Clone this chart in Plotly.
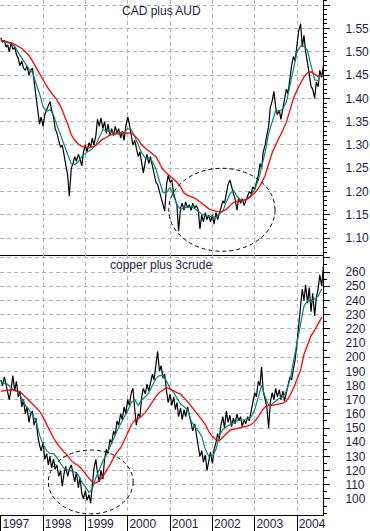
import pandas as pd
import plotly.graph_objects as go

# ---------------- data ----------------
# semi-monthly closes, starting Jan 1997
cad_aud_price = [
    1.53, 1.52, 1.525, 1.51,
    1.515, 1.50, 1.52, 1.505, 1.51, 1.495,
    1.485, 1.47, 1.48, 1.465,
    1.46, 1.47, 1.45, 1.46,
    1.465, 1.44, 1.40,
    1.375, 1.345, 1.36, 1.34,
    1.365, 1.375, 1.385, 1.393, 1.375,
    1.36, 1.335, 1.325,
    1.31, 1.295, 1.30, 1.275,
    1.26, 1.235, 1.19,
    1.25,
    1.26, 1.275, 1.265, 1.28,
    1.27, 1.255, 1.285, 1.30, 1.285, 1.305,
    1.295, 1.315, 1.30, 1.32,
    1.355, 1.34, 1.358, 1.335,
    1.35, 1.325, 1.345, 1.32,
    1.335, 1.32, 1.34, 1.325, 1.335, 1.315, 1.33, 1.31,
    1.34, 1.36, 1.345,
    1.32, 1.30, 1.31, 1.29,
    1.275, 1.285, 1.265,
    1.24, 1.265,
    1.28, 1.26, 1.275, 1.255,
    1.24, 1.22, 1.215,
    1.20, 1.185, 1.17, 1.158,
    1.215, 1.235, 1.22, 1.225,
    1.195, 1.18, 1.17,
    1.115,
    1.165, 1.175, 1.16, 1.178, 1.165, 1.172,
    1.16, 1.175, 1.165, 1.17, 1.16,
    1.12,
    1.15, 1.135, 1.155, 1.14, 1.15,
    1.135, 1.15, 1.13, 1.155, 1.14, 1.155,
    1.165, 1.18, 1.175, 1.195,
    1.215, 1.225, 1.21,
    1.195, 1.185,
    1.16,
    1.185, 1.175, 1.185, 1.17, 1.18,
    1.19, 1.20, 1.195, 1.21, 1.205, 1.22,
    1.235, 1.26, 1.25,
    1.285, 1.30, 1.32, 1.34,
    1.38, 1.395, 1.415,
    1.38, 1.365, 1.375, 1.355,
    1.38, 1.40, 1.42, 1.41, 1.445,
    1.47, 1.49, 1.48, 1.515,
    1.545, 1.56,
    1.51, 1.535, 1.50,
    1.475, 1.45, 1.425, 1.42,
    1.40, 1.435,
    1.425, 1.46, 1.445, 1.47,
]

# monthly moving averages, starting Jan 1997
cad_aud_fast = [
    1.525, 1.523, 1.52, 1.517, 1.512, 1.498, 1.487, 1.475, 1.463, 1.456, 1.435, 1.41,
    1.382, 1.372, 1.376, 1.364, 1.342, 1.32, 1.30, 1.28, 1.26, 1.258, 1.264, 1.275,
    1.282, 1.287, 1.292, 1.30, 1.315, 1.333, 1.33, 1.328, 1.327, 1.326, 1.326, 1.327,
    1.335, 1.332, 1.318, 1.298, 1.283, 1.272, 1.273, 1.265, 1.248, 1.222, 1.198, 1.198,
    1.209, 1.19, 1.172, 1.162, 1.165, 1.166, 1.168, 1.163, 1.157, 1.152, 1.148, 1.147,
    1.146, 1.145, 1.152, 1.158, 1.178, 1.195, 1.203, 1.19, 1.182, 1.181, 1.186, 1.192,
    1.205, 1.225, 1.252, 1.285, 1.325, 1.352, 1.374, 1.372, 1.378, 1.392, 1.425, 1.462,
    1.50, 1.512, 1.512, 1.502, 1.47, 1.44, 1.438, 1.455,
]
cad_aud_slow = [
    1.525, 1.523, 1.522, 1.519, 1.516, 1.512, 1.507, 1.50, 1.492, 1.48, 1.466, 1.452,
    1.44, 1.426, 1.416, 1.407, 1.396, 1.383, 1.365, 1.345, 1.322, 1.31, 1.302, 1.297,
    1.295, 1.294, 1.296, 1.299, 1.306, 1.313, 1.316, 1.322, 1.323, 1.324, 1.324, 1.325,
    1.326, 1.325, 1.32, 1.312, 1.30, 1.293, 1.288, 1.281, 1.275, 1.262, 1.247, 1.24,
    1.233, 1.226, 1.22, 1.21, 1.197, 1.192, 1.189, 1.186, 1.181, 1.175, 1.169, 1.163,
    1.16, 1.157, 1.156, 1.158, 1.162, 1.17, 1.177, 1.179, 1.18, 1.182, 1.184, 1.19,
    1.197, 1.207, 1.218, 1.235, 1.262, 1.284, 1.30, 1.315, 1.332, 1.349, 1.375, 1.40,
    1.418, 1.432, 1.446, 1.455, 1.457, 1.452, 1.447, 1.452,
]

copper_crude_price = [
    184, 180, 186, 181,
    176, 170, 178,
    187, 176, 183,
    172, 176, 165, 170,
    160, 165, 154, 160,
    162, 152, 157,
    145, 138, 134, 140,
    128, 132, 124,
    130, 122, 128, 121,
    124, 116, 120, 109,
    118, 123, 116, 121, 124,
    117, 112, 119, 108, 115,
    104, 100, 106, 99, 103, 97,
    112, 121, 128,
    118, 112, 120, 114,
    128, 135, 132, 142, 139,
    148, 145, 155, 152,
    160, 156, 165, 160,
    170, 166, 175, 178,
    164, 152, 160, 158,
    172, 178, 174, 181, 176,
    182, 188, 184,
    195, 204,
    190, 194, 185, 188,
    176, 168, 174,
    166, 172, 163, 168,
    158, 164, 156,
    163, 158, 165, 160,
    152, 148, 153, 144,
    137, 130, 134,
    126, 131, 120, 127,
    133, 125, 135,
    140, 146, 142,
    152, 158, 150, 162,
    154, 159, 151, 157, 153, 160, 155, 158, 151, 156, 153, 158, 155,
    162, 168, 175,
    172, 183, 180, 193,
    176, 170, 165,
    150,
    168, 175, 170, 178, 172, 177,
    170, 176, 169, 175,
    180, 186, 184, 192, 198,
    210, 222,
    236, 248, 240, 251,
    238, 249, 232, 245, 229, 242,
    248, 258, 250, 264,
]
copper_crude_fast = [
    182, 181.5, 181, 178, 176.5, 175, 171, 166, 163, 159.5, 155, 145,
    138.5, 134, 132, 132, 129, 125, 121.5, 120.5, 120, 119, 117, 112,
    108.5, 104.5, 107, 115, 120.5, 127, 131, 137, 143.5, 148, 153, 157.5,
    162, 168, 170, 166, 170, 172, 175, 180, 185, 187, 187, 183,
    178, 175, 171, 167, 165, 163, 155, 151, 148, 144, 135, 130,
    130, 135, 145, 149, 151, 152.5, 154, 155, 155.5, 156, 156, 158,
    163, 172, 180, 172, 166, 167, 169, 171, 172, 176, 184, 197,
    211, 223, 236, 240, 239, 241, 243, 248,
]
copper_crude_slow = [
    176, 176.5, 177, 177, 176.5, 176, 174.5, 172, 169.5, 166.5, 164, 162,
    157.5, 152.5, 147.5, 143, 139, 135.5, 133, 130.5, 127, 125, 123.5, 121,
    117.5, 114.5, 112, 111, 113, 116, 120, 124, 129, 133, 136, 141,
    146, 152, 155.5, 156.5, 158.5, 161, 164.5, 169, 172.5, 175, 177, 178.5,
    177.5, 176, 175, 174, 171.5, 168.5, 165.5, 162, 159, 156, 152.5, 147.5,
    144, 142, 141, 143.5, 146.5, 148.5, 149, 149.5, 150, 151, 151.5, 152.5,
    154.5, 158, 162, 165, 166, 166, 166.5, 167, 167.5, 169, 173, 178,
    184, 191, 202, 209, 215, 219, 223, 228,
]

year_ticks = ["1997-01-01", "1998-01-01", "1999-01-01", "2000-01-01",
              "2001-01-01", "2002-01-01", "2003-01-01", "2004-01-01"]
year_labels = ["1997", "1998", "1999", "2000", "2001", "2002", "2003", "2004"]

cad_ticks = [1.10, 1.15, 1.20, 1.25, 1.30, 1.35, 1.40, 1.45, 1.50, 1.55, 1.60]
cad_labels = ["1.10", "1.15", "1.20", "1.25", "1.30", "1.35", "1.40", "1.45",
              "1.50", "1.55", ""]
cc_ticks = [100, 110, 120, 130, 140, 150, 160, 170, 180, 190, 200, 210, 220,
            230, 240, 250, 260, 270]
cc_labels = ["100", "110", "120", "130", "140", "150", "160", "170", "180",
             "190", "200", "210", "220", "230", "240", "250", "260", ""]

top_title = "CAD plus AUD"
bottom_title = "copper plus 3crude"

# ---------------- figure ----------------
price_dates_top = pd.date_range("1997-01-01", periods=len(cad_aud_price), freq="SMS")
price_dates_bot = pd.date_range("1997-01-01", periods=len(copper_crude_price), freq="SMS")
ma_dates_top = pd.date_range("1997-01-01", periods=len(cad_aud_fast), freq="MS")
ma_dates_top2 = pd.date_range("1997-01-01", periods=len(cad_aud_slow), freq="MS")
ma_dates_bot = pd.date_range("1997-01-01", periods=len(copper_crude_fast), freq="MS")
ma_dates_bot2 = pd.date_range("1997-01-01", periods=len(copper_crude_slow), freq="MS")

BLACK = "#000000"
TEAL = "#008878"
RED = "#ff0000"
GRID = "#b4b4b4"
TXT = "#1e1e46"

fig = go.Figure()
fig.add_trace(go.Scatter(x=price_dates_top, y=cad_aud_price, mode="lines",
                         line=dict(color=BLACK, width=1.2), xaxis="x", yaxis="y"))
fig.add_trace(go.Scatter(x=ma_dates_top, y=cad_aud_fast, mode="lines",
                         line=dict(color=TEAL, width=1.2), xaxis="x", yaxis="y"))
fig.add_trace(go.Scatter(x=ma_dates_top2, y=cad_aud_slow, mode="lines",
                         line=dict(color=RED, width=1.3), xaxis="x", yaxis="y"))
fig.add_trace(go.Scatter(x=price_dates_bot, y=copper_crude_price, mode="lines",
                         line=dict(color=BLACK, width=1.2), xaxis="x2", yaxis="y2"))
fig.add_trace(go.Scatter(x=ma_dates_bot, y=copper_crude_fast, mode="lines",
                         line=dict(color=TEAL, width=1.2), xaxis="x2", yaxis="y2"))
fig.add_trace(go.Scatter(x=ma_dates_bot2, y=copper_crude_slow, mode="lines",
                         line=dict(color=RED, width=1.3), xaxis="x2", yaxis="y2"))

x_range = ["1996-12-25", "2004-08-12"]
split = 1 - 255 / 515

common_x = dict(type="date", range=x_range, tickmode="array", tickvals=year_ticks,
                showgrid=True, gridcolor=GRID, griddash="4px,3px", gridwidth=1,
                showline=True, linecolor="black", linewidth=1, zeroline=False,
                fixedrange=True)
common_y = dict(side="right", tickmode="array", ticks="outside", ticklen=6,
                tickcolor="black", tickwidth=1, showline=True, linecolor="black",
                linewidth=1, showgrid=True, gridcolor=GRID, griddash="4px,3px",
                gridwidth=1, zeroline=False, ticklabelstandoff=13,
                tickfont=dict(size=12, color=TXT), fixedrange=True)

fig.update_layout(
    width=370, height=531,
    margin=dict(l=0, r=47, t=0, b=16),
    paper_bgcolor="white", plot_bgcolor="white",
    showlegend=False,
    hovermode=False,
    font=dict(family="Arial, Liberation Sans, sans-serif", size=12, color=TXT),
    xaxis=dict(common_x, domain=[0, 1], anchor="y", showticklabels=False,
               ticks="", matches="x2"),
    xaxis2=dict(common_x, domain=[0, 1], anchor="y2", ticktext=year_labels,
                ticks="outside", ticklen=15, tickcolor="black",
                ticklabelstandoff=-17, ticklabelshift=15,
                ticklabeloverflow="allow",
                tickfont=dict(size=12, color=TXT)),
    yaxis=dict(common_y, domain=[split, 1], anchor="x", range=[1.064, 1.611],
               tickvals=cad_ticks, ticktext=cad_labels,
               minor=dict(tickmode="linear", tick0=1.10, dtick=0.01, ticks="outside",
                          ticklen=3, tickcolor="black", showgrid=False)),
    yaxis2=dict(common_y, domain=[0, split], anchor="x2", range=[88.7, 272],
                tickvals=cc_ticks, ticktext=cc_labels,
                minor=dict(tickmode="linear", tick0=100, dtick=5, ticks="outside",
                           ticklen=3, tickcolor="black", showgrid=False)),
    annotations=[
        dict(text=top_title, xref="x domain", yref="y domain", x=0.4985, y=1 - 11 / 255,
             xanchor="center", yanchor="middle", showarrow=False,
             font=dict(size=12, color=TXT)),
        dict(text=bottom_title, xref="x2 domain", yref="y2 domain", x=0.4985,
             y=1 - 10 / 260, xanchor="center", yanchor="middle", showarrow=False,
             font=dict(size=12, color=TXT)),
    ],
    shapes=[
        dict(type="circle", xref="x", yref="y", x0="2000-12-20", x1="2003-06-25",
             y0=1.072, y1=1.25, line=dict(color="black", width=1, dash="4px,3px")),
        dict(type="circle", xref="x2", yref="y2", x0="1998-02-15", x1="2000-02-17",
             y0=89.5, y1=134.5, line=dict(color="black", width=1, dash="4px,3px")),
    ],
)

fig.write_html("out.html",
               config={"displayModeBar": False, "staticPlot": True},
               post_script="document.body.style.margin='0px';"
                           "document.body.style.overflow='hidden';")
